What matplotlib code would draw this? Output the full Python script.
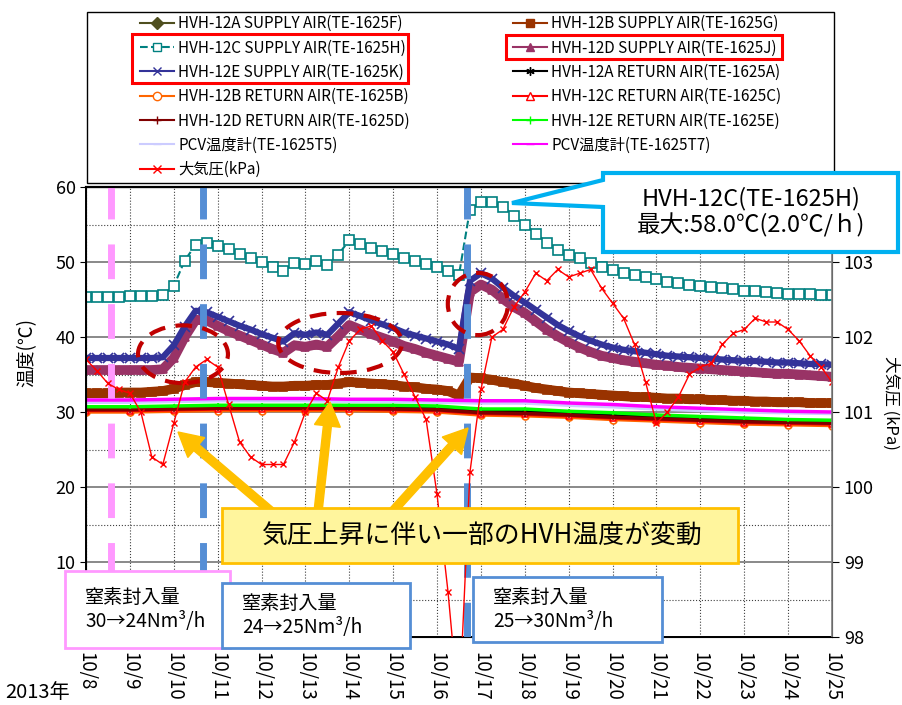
import matplotlib
matplotlib.use("Agg")
import matplotlib.pyplot as plt
import matplotlib.patches as mpatches
import matplotlib.transforms as mtransforms
from matplotlib.lines import Line2D
import numpy as np

plt.rcParams['font.family'] = ['Noto Sans CJK JP', 'DejaVu Sans']

# time in days after 2013/10/8 0:00
t6 = np.arange(69) * 0.25     # 6-hourly samples
t24 = np.arange(18)           # daily samples
date_labels = ['10/8', '10/9', '10/10', '10/11', '10/12', '10/13', '10/14', '10/15', '10/16',
               '10/17', '10/18', '10/19', '10/20', '10/21', '10/22', '10/23', '10/24', '10/25']

# supply air temperatures (6-hourly, degC)
sup_12b = [32.5, 32.5, 32.5, 32.6, 32.6, 32.6, 32.7, 32.8, 33.1, 33.6, 34.0, 34.0, 33.9, 33.8, 33.7, 33.6,
           33.5, 33.4, 33.4, 33.5, 33.5, 33.6, 33.6, 33.8, 34.0, 33.9, 33.8, 33.7, 33.6, 33.4, 33.3, 33.1,
           33.0, 32.8, 32.2, 34.6, 34.5, 34.3, 34.0, 33.8, 33.5, 33.2, 33.0, 32.8, 32.6, 32.5, 32.4, 32.3,
           32.2, 32.1, 32.0, 32.0, 31.9, 31.8, 31.8, 31.7, 31.7, 31.6, 31.6, 31.5, 31.5, 31.4, 31.4, 31.3,
           31.3, 31.3, 31.2, 31.2, 31.2]
sup_12c = [45.4, 45.4, 45.4, 45.4, 45.5, 45.5, 45.5, 45.6, 46.8, 50.2, 52.3, 52.6, 52.2, 51.7, 51.1, 50.6,
           50.0, 49.3, 48.8, 49.9, 49.7, 50.2, 49.6, 51.0, 52.9, 52.4, 51.9, 51.5, 51.1, 50.6, 50.2, 49.7,
           49.3, 48.8, 48.3, 57.0, 58.0, 58.0, 57.4, 56.2, 55.0, 53.8, 52.6, 51.6, 51.0, 50.5, 49.9, 49.4,
           49.0, 48.6, 48.3, 48.0, 47.7, 47.4, 47.2, 47.0, 46.8, 46.7, 46.5, 46.4, 46.2, 46.1, 46.0, 45.9,
           45.8, 45.8, 45.7, 45.6, 45.6]
sup_12d = [35.6, 35.6, 35.6, 35.6, 35.6, 35.6, 35.6, 35.7, 37.2, 40.0, 42.3, 42.2, 41.5, 40.8, 40.2, 39.6,
           39.0, 38.4, 37.9, 38.9, 38.7, 39.0, 38.7, 40.1, 41.6, 41.0, 40.4, 39.9, 39.4, 38.8, 38.4, 37.9,
           37.5, 37.1, 36.7, 46.0, 47.0, 46.3, 45.1, 44.0, 43.2, 42.1, 41.0, 40.1, 39.3, 38.6, 38.0, 37.5,
           37.2, 36.9, 36.7, 36.5, 36.3, 36.2, 36.0, 35.9, 35.8, 35.7, 35.6, 35.5, 35.4, 35.3, 35.2, 35.1,
           35.1, 35.0, 34.9, 34.8, 34.7]
sup_12e = [37.2, 37.2, 37.2, 37.2, 37.2, 37.2, 37.2, 37.3, 38.9, 41.4, 43.5, 43.3, 42.7, 42.1, 41.5, 41.0,
           40.4, 39.9, 39.4, 40.5, 40.3, 40.6, 40.3, 41.8, 43.3, 42.8, 42.2, 41.7, 41.2, 40.6, 40.2, 39.8,
           39.4, 39.0, 38.4, 47.5, 48.5, 47.8, 46.6, 45.5, 44.6, 43.6, 42.6, 41.6, 40.8, 40.1, 39.5, 39.0,
           38.6, 38.3, 38.1, 37.9, 37.7, 37.5, 37.4, 37.3, 37.2, 37.1, 37.0, 36.9, 36.8, 36.8, 36.7, 36.6,
           36.6, 36.5, 36.4, 36.4, 36.3]
# atmospheric pressure (6-hourly, kPa)
pressure = [101.7, 101.55, 101.38, 101.3, 101.25, 101.0, 100.4, 100.3, 100.85, 101.4, 101.6, 101.7,
            101.6, 101.1, 100.6, 100.4, 100.3, 100.3, 100.3, 100.6, 101.0, 101.25, 101.15, 101.6,
            101.95, 102.1, 102.15, 101.95, 101.8, 101.5, 101.2, 100.9, 99.9, 98.6, 97.0, 100.2,
            101.3, 102.0, 102.1, 102.4, 102.6, 102.85, 102.75, 102.9, 102.8, 102.85, 102.9, 102.65,
            102.45, 102.25, 101.9, 101.4, 100.85, 101.0, 101.2, 101.5, 101.6, 101.65, 101.9, 102.05,
            102.1, 102.25, 102.2, 102.2, 102.1, 101.95, 101.75, 101.6, 101.4]

# low temperature group (daily, degC)
sup_12a = [30.5, 30.5, 30.6, 30.7, 30.7, 30.7, 30.7, 30.6, 30.5, 30.0, 29.9, 29.6, 29.4, 29.2, 29.0, 28.9, 28.7, 28.6]
ret_12a = [30.4, 30.4, 30.5, 30.6, 30.6, 30.6, 30.6, 30.6, 30.5, 30.1, 30.0, 29.8, 29.5, 29.3, 29.1, 28.9, 28.8, 28.7]
ret_12b = [30.0, 30.0, 30.1, 30.2, 30.2, 30.2, 30.2, 30.1, 30.0, 29.6, 29.5, 29.3, 29.0, 28.8, 28.6, 28.4, 28.3, 28.2]
ret_12c = [30.2, 30.2, 30.3, 30.4, 30.4, 30.4, 30.4, 30.3, 30.2, 29.8, 29.7, 29.5, 29.2, 29.0, 28.8, 28.6, 28.5, 28.4]
ret_12d = [30.3, 30.3, 30.4, 30.5, 30.5, 30.5, 30.5, 30.4, 30.3, 29.9, 29.8, 29.6, 29.3, 29.1, 28.9, 28.7, 28.6, 28.5]
ret_12e = [30.7, 30.7, 30.8, 30.9, 30.9, 30.9, 30.9, 30.9, 30.8, 30.4, 30.4, 30.1, 29.9, 29.6, 29.4, 29.2, 29.0, 28.9]
pcv_t5 = [31.3, 31.3, 31.4, 31.5, 31.5, 31.5, 31.4, 31.4, 31.3, 31.2, 31.2, 30.9, 30.7, 30.4, 30.2, 30.0, 29.9, 29.8]
pcv_t7 = [31.6, 31.6, 31.7, 31.8, 31.8, 31.8, 31.7, 31.7, 31.6, 31.5, 31.5, 31.2, 31.0, 30.7, 30.5, 30.3, 30.1, 30.0]

# (key, x, y, legend label, colour, marker, marker size, open marker, linestyle, band width)
series = [
    ('a_s', t24, sup_12a, 'HVH-12A SUPPLY AIR(TE-1625F)', '#4F4F1F', 'D', 3, False, '-', 2.5),
    ('b_s', t6, sup_12b, 'HVH-12B SUPPLY AIR(TE-1625G)', '#993300', 's', 6, False, '-', 7),
    ('c_s', t6, sup_12c, 'HVH-12C SUPPLY AIR(TE-1625H)', '#008080', 's', 7, True, '--', 1.5),
    ('d_s', t6, sup_12d, 'HVH-12D SUPPLY AIR(TE-1625J)', '#993366', '^', 6, False, '-', 7),
    ('e_s', t6, sup_12e, 'HVH-12E SUPPLY AIR(TE-1625K)', '#333399', 'x', 7, False, '-', 4.5),
    ('a_r', t24, ret_12a, 'HVH-12A RETURN AIR(TE-1625A)', 'black', (6, 2, 0), 5, False, '-', 2.5),
    ('b_r', t24, ret_12b, 'HVH-12B RETURN AIR(TE-1625B)', '#FF6600', 'o', 5, True, '-', 2.5),
    ('c_r', t24, ret_12c, 'HVH-12C RETURN AIR(TE-1625C)', '#FF0000', '^', 5, True, '-', 2.5),
    ('d_r', t24, ret_12d, 'HVH-12D RETURN AIR(TE-1625D)', '#800000', '+', 5, False, '-', 2.5),
    ('e_r', t24, ret_12e, 'HVH-12E RETURN AIR(TE-1625E)', '#00FF00', '+', 3, False, '-', 2.5),
    ('t5', t24, pcv_t5, 'PCV温度計(TE-1625T5)', '#CCCCFF', '_', 5, False, '-', 2.5),
    ('t7', t24, pcv_t7, 'PCV温度計(TE-1625T7)', '#FF00FF', '_', 5, False, '-', 2.5),
]

W, H = 902, 705
fig = plt.figure(figsize=(W / 100, H / 100), dpi=100)
pix = mtransforms.Affine2D().scale(1 / W, -1 / H).translate(0, 1) + fig.transFigure

ax = fig.add_axes([86 / W, 1 - 637 / H, 746 / W, 450 / H])
ax2 = ax.twinx()

handles = {}
for key, x, y, label, col, mk, ms, hollow, ls, lw in series:
    mfc = 'white' if hollow else col
    ax.plot(x, y, color=col, lw=lw, ls=ls, marker=mk, ms=ms, mfc=mfc, mec=col, mew=1.2)
    handles[key] = Line2D([], [], color=col, lw=1.5, ls=ls, marker=mk, ms=6, mfc=mfc, mec=col, label=label)
ax2.plot(t6, pressure, color='#FF0000', lw=1, marker='x', ms=5, mew=1)
handles['p'] = Line2D([], [], color='#FF0000', lw=1.5, marker='x', ms=6, label='大気圧(kPa)')

ax.set_xlim(0, 17)
ax.set_ylim(0, 60)
ax2.set_ylim(98, 104)
ax.set_yticks(range(0, 61, 10))
ax.set_yticks(range(5, 60, 10), minor=True)
ax2.set_yticks(range(98, 104))
ax.set_xticks(range(18))
ax.set_xticklabels(date_labels, rotation=270, fontsize=13.5, ha='left', va='center', rotation_mode='anchor')
ax.tick_params(axis='y', labelsize=13, direction='out', length=4, which='major')
ax.tick_params(axis='y', which='minor', length=0)
ax.tick_params(axis='x', length=0, pad=11)
ax2.tick_params(axis='y', labelsize=13, direction='out', length=5, colors='black')
ax.grid(which='major', axis='y', color='#808080', lw=1.3)
ax.grid(which='minor', axis='y', color='#404040', lw=0.8, ls=':')
ax.grid(which='major', axis='x', color='#404040', lw=0.8, ls=':')
ax.set_axisbelow(True)
for s in ['left', 'bottom']:
    ax.spines[s].set_linewidth(1.4)
ax.spines['top'].set_linewidth(1.6)
ax2.spines['right'].set_color('#808080')
ax2.spines['right'].set_linewidth(1.2)

# nitrogen change timings and highlighted regions
ax.axvline(0.57, color='#FF99FF', lw=5, ls=(0, (5, 3.6)), zorder=20)
ax.axvline(2.66, color='#558ED5', lw=5, ls=(0, (5, 3.6)), zorder=20)
ax.axvline(8.68, color='#558ED5', lw=5, ls=(0, (5, 3.6)), zorder=20)
for cx, cy, w, h in [(2.21, 37.7, 2.05, 7.7), (5.79, 39.2, 2.82, 8.0), (8.93, 44.4, 1.37, 8.3)]:
    ax.add_patch(mpatches.Ellipse((cx, cy), w, h, fill=False, ec='#C00000', lw=3,
                                  ls=(0, (4, 2.5)), zorder=21))

# legend (two columns, Excel order)
left = ['a_s', 'c_s', 'e_s', 'b_r', 'd_r', 't5', 'p']
right = ['b_s', 'd_s', 'a_r', 'c_r', 'e_r', 't7']
fig.patches.append(mpatches.Rectangle((87, 183), 747, -171, transform=pix, fc='white', ec='black', lw=1, zorder=2))
for keys, x0 in [(left, 140), (right, 513)]:
    fig.legend([handles[k] for k in keys], [handles[k].get_label() for k in keys], loc='upper left',
               bbox_to_anchor=(x0 / W, 1 - 15 / H), frameon=False, borderpad=0, borderaxespad=0,
               handlelength=2.2, handletextpad=0.3, labelspacing=0.48, fontsize=11)
fig.patches.append(mpatches.Rectangle((132, 83), 276, -49, transform=pix, fill=False, ec='#FF0000', lw=2.2, zorder=8))
fig.patches.append(mpatches.Rectangle((506, 59), 276, -24, transform=pix, fill=False, ec='#FF0000', lw=2.2, zorder=8))

# callout for 12C maximum
fig.patches.append(mpatches.Polygon([(603, 173), (898, 173), (898, 252), (603, 252), (603, 207), (512, 203),
                                     (603, 180)], closed=True, transform=pix, fc='white', ec='#00B0F0',
                                    lw=3, zorder=10))
fig.text(751 / W, 1 - 212 / H, 'HVH-12C(TE-1625H)\n最大:58.0℃(2.0℃/ｈ)', ha='center', va='center',
         fontsize=17, linespacing=1.1, zorder=11)

# arrows + message box
for x1, y1, x2, y2 in [(272, 512, 178, 432), (318, 512, 330, 402), (392, 512, 468, 428)]:
    fig.patches.append(mpatches.FancyArrow(x1, y1, x2 - x1, y2 - y1, width=8, head_width=26, head_length=24,
                                           length_includes_head=True, transform=pix, fc='#FFC000',
                                           ec='#FFC000', zorder=12))
fig.patches.append(mpatches.Rectangle((222, 563), 516, -55, transform=pix, fc='#FFF59D', ec='#FFC000', lw=2, zorder=13))
fig.text(481 / W, 1 - 536 / H, '気圧上昇に伴い一部のHVH温度が変動', ha='center', va='center', fontsize=18.6, zorder=14)

# nitrogen flow boxes
for (x, y, w, h, ec), txt in zip([(65, 571, 165, 77, '#FF99FF'), (222, 583, 188, 65, '#558ED5'),
                                   (473, 577, 189, 65, '#558ED5')],
                                  ['窒素封入量\n30→24Nm³/h', '窒素封入量\n24→25Nm³/h', '窒素封入量\n25→30Nm³/h']):
    fig.patches.append(mpatches.Rectangle((x, y + h), w, -h, transform=pix, fc='white', ec=ec, lw=2, zorder=15))
    fig.text((x + 20) / W, 1 - (y + h / 2) / H, txt, ha='left', va='center', fontsize=13.8, linespacing=1.15, zorder=16)

fig.text(27 / W, 1 - 353 / H, '温度(℃)', rotation=90, ha='center', va='center', fontsize=13.5)
fig.text(891 / W, 1 - 403 / H, '大気圧 (kPa)', rotation=270, ha='center', va='center', fontsize=12)
fig.text(5 / W, 1 - 692 / H, '2013年', ha='left', va='center', fontsize=14.5)

fig.savefig('out.png', dpi=100)
